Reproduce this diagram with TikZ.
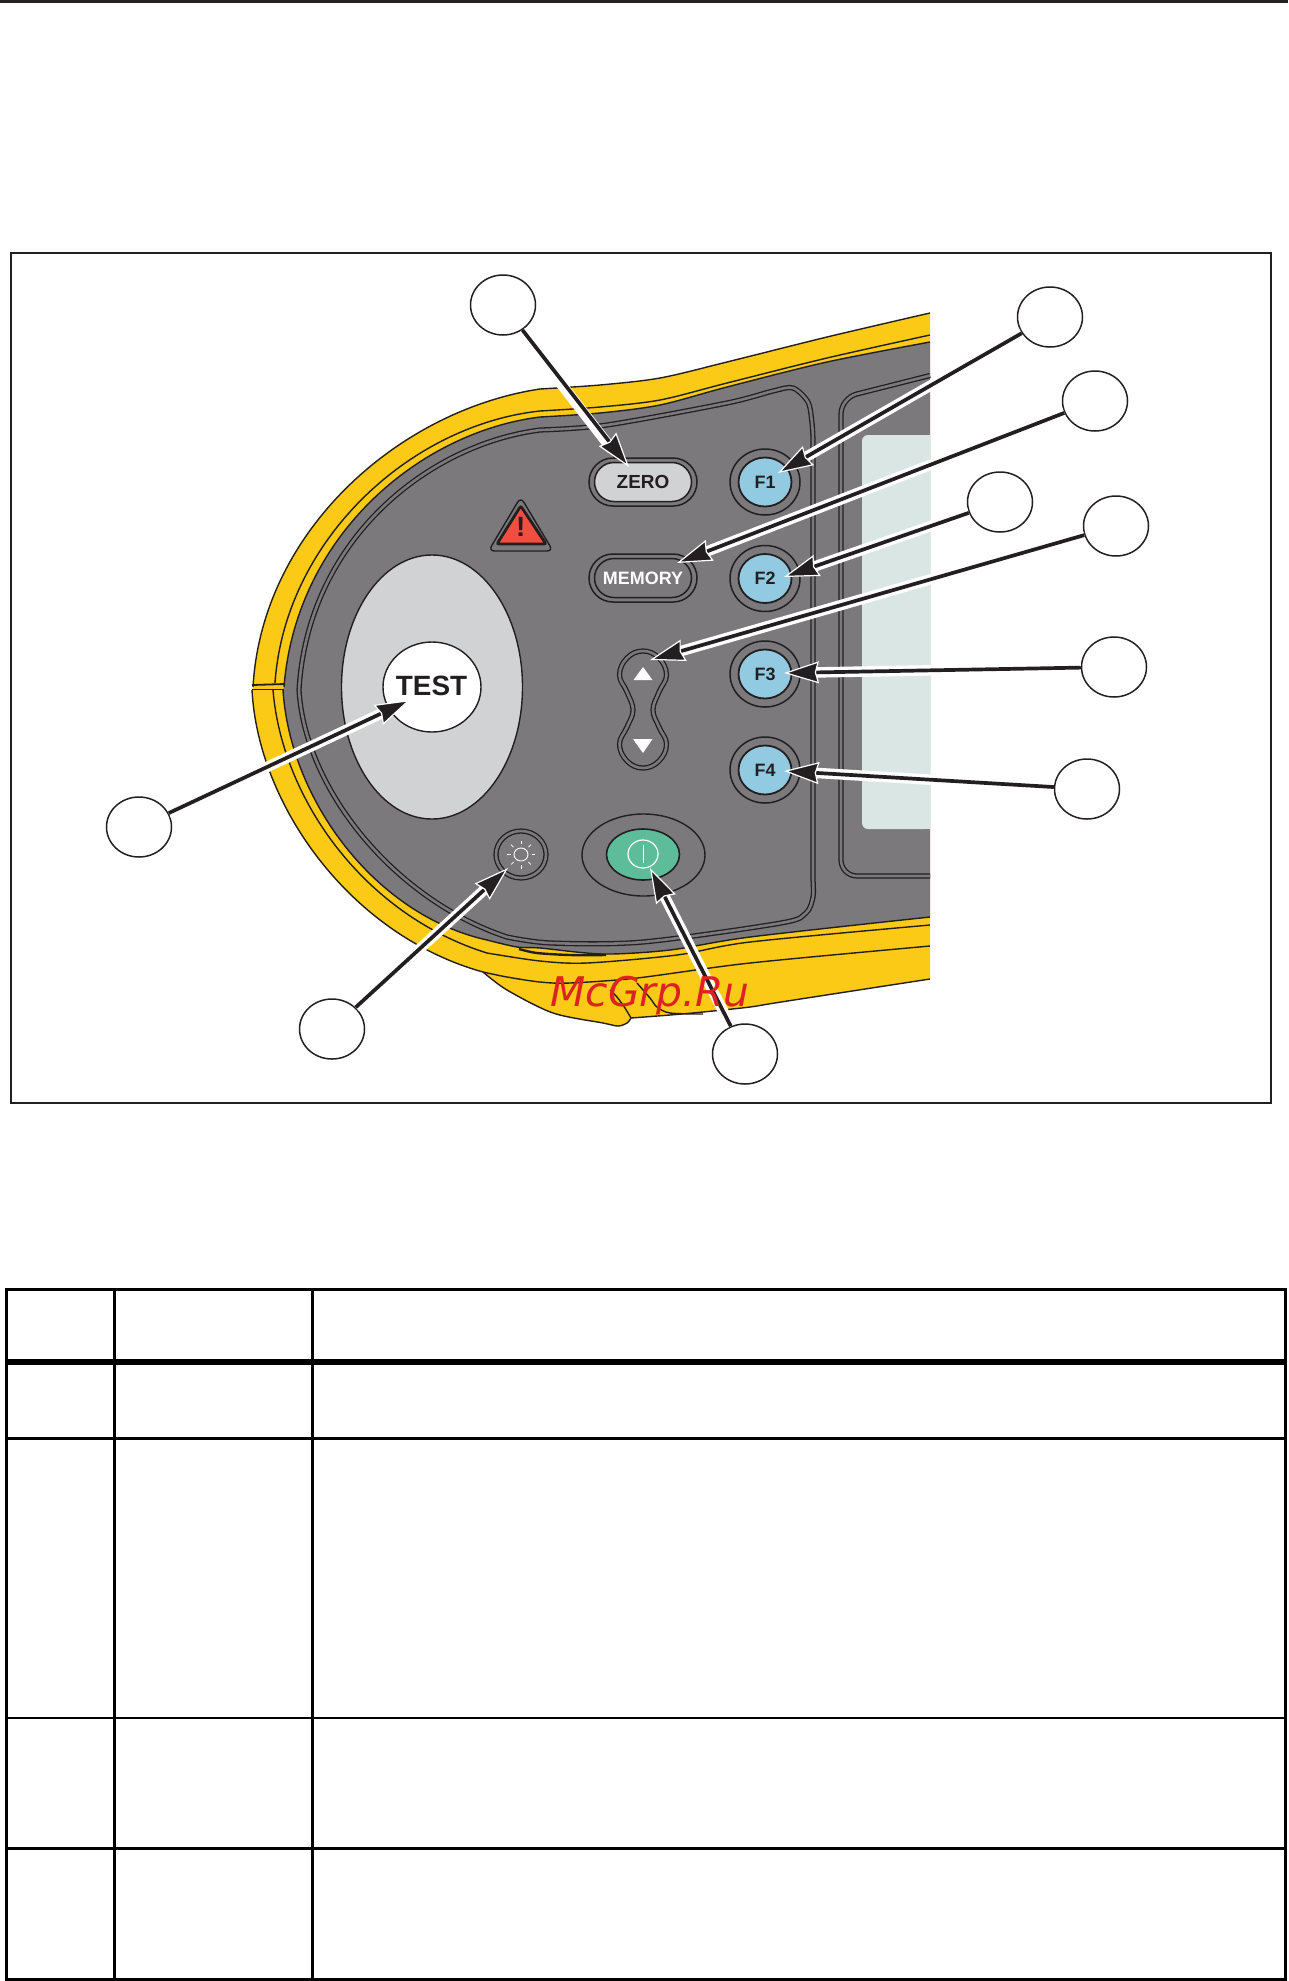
\documentclass[tikz,border=0pt]{standalone}
\usepackage{fontspec}
\setmainfont{Liberation Sans}
\newfontfamily\wmfont{DejaVu Sans}
\usetikzlibrary{arrows.meta,shapes.geometric,shapes.misc}
\definecolor{ink}{HTML}{231F20}
\definecolor{bodyyellow}{HTML}{FBCA16}
\definecolor{panelgray}{HTML}{7B797B}
\definecolor{lightgray}{HTML}{D1D2D3}
\definecolor{keyblue}{HTML}{92CAE2}
\definecolor{keygreen}{HTML}{5DBD9B}
\definecolor{lcd}{HTML}{DAE6E3}
\definecolor{warnred}{HTML}{F04E3E}
\definecolor{markred}{HTML}{DD2222}
\tikzset{
  x=1bp,y=-1bp,
  edge/.style={draw=ink,line width=1.4bp,line join=round},
  dbl/.style={draw=ink,line width=1.3bp,double=panelgray,double distance=2.6bp},
  callout/.style={ellipse,draw=ink,fill=white,line width=1.5bp,minimum width=65bp,minimum height=60bp,inner sep=0pt},
  halo/.style={draw=white,line width=10.5bp,shorten >=24bp},
  leader/.style={draw=ink,line width=3.7bp,-{Stealth[length=35bp,width=22bp,inset=3bp,fill=ink,color=white,line width=1.2bp]}},
  pillout/.style={rounded rectangle,draw=ink,line width=1.5bp,fill=panelgray,minimum width=108bp,minimum height=48bp,inner sep=0pt},
  pillin/.style={rounded rectangle,draw=ink,line width=1.5bp,minimum width=97bp,minimum height=39bp,inner sep=0pt,font=\fontsize{19}{19}\selectfont\bfseries},
  keyout/.style={ellipse,draw=ink,line width=1.5bp,minimum width=70bp,minimum height=66bp,inner sep=0pt},
  keyin/.style={ellipse,draw=ink,fill=keyblue,line width=1.8bp,text=ink,minimum width=53bp,minimum height=49bp,inner sep=0pt,font=\fontsize{18}{18}\selectfont\bfseries},
  tablerule/.style={draw=black,line width=2.6bp},
}
\begin{document}
\begin{tikzpicture}
\useasboundingbox (0,0) rectangle (1288,1981);
% page rule and frame
\draw[draw=ink,line width=2.6bp] (0,1.2) -- (1288,1.2);
\draw[draw=ink,line width=2.6bp] (11,253) rectangle (1271,1103);
% yellow housing
\path[fill=bodyyellow]
  plot[smooth] coordinates {(930,313) (827,337) (727,362) (660,378) (600,385) (540,389)}
  .. controls (400,410) and (262,530) .. (253,687) -- (252,690)
  .. controls (258,805) and (350,935) .. (483,972)
  -- plot[smooth] coordinates {(483,972) (507,990) (553,1013) (603,1023) (618,1026) (627,1023) (631,1018)}
  -- plot[smooth] coordinates {(631,1018) (670,1015) (703,1012) (750,1007) (781,1002) (930,979)} -- cycle;
\draw[edge] plot[smooth] coordinates {(930,313) (827,337) (727,362) (660,378) (600,385) (540,389)}
  .. controls (400,410) and (262,530) .. (253,687);
\draw[edge] (252,690) .. controls (258,805) and (350,935) .. (483,972);
\draw[edge] plot[smooth] coordinates {(483,972) (507,990) (553,1013) (603,1023) (618,1026) (627,1023) (631,1018)};
\draw[edge] plot[smooth] coordinates {(631,1018) (670,1015) (703,1012) (750,1007) (781,1002) (930,979)};
% gray face
\path[fill=panelgray]
  plot[smooth] coordinates {(930,342) (827,362) (727,387) (660,405) (600,413) (540,417)}
  .. controls (420,432) and (296,535) .. (284,687) -- (283,690)
  .. controls (290,800) and (375,915) .. (487,940)
  -- plot[smooth] coordinates {(487,940) (517,947) (540,948) (603,954) (670,950) (750,937) (930,917)} -- cycle;
\draw[edge] plot[smooth] coordinates {(930,342) (827,362) (727,387) (660,405) (600,413) (540,417)}
  .. controls (420,432) and (296,535) .. (284,687);
\draw[edge] (283,690) .. controls (290,800) and (375,915) .. (487,940)
  -- plot[smooth] coordinates {(487,940) (517,947) (540,948) (603,954) (670,950) (750,937) (930,917)};
% housing division lines
\draw[edge] plot[smooth] coordinates {(930,335) (827,358) (727,383) (660,400) (600,407) (540,411)}
  .. controls (410,425) and (285,540) .. (275,683);
\draw[edge] (273,690) .. controls (282,800) and (365,915) .. (487,953)
  -- plot[smooth] coordinates {(487,953) (540,961) (587,963) (677,955) (750,942) (930,925)};
\draw[edge] plot[smooth] coordinates {(483,972) (507,977) (540,982) (570,983) (637,978) (750,963) (930,946)};
\draw[edge] plot[smooth] coordinates {(610,990) (617,997) (625,1008) (631,1018)};
\draw[edge] plot[smooth] coordinates {(637,983) (650,998) (657,1007) (670,1013) (703,1014)};
\draw[draw=ink,line width=2.4bp] plot[smooth] coordinates {(519,949) (537,953) (570,955) (606,955)};
% side notch
\draw[draw=ink,line width=1.8bp] (252,685) -- (285,684);
\draw[draw=ink,line width=1.3bp] (252,689.5) -- (283.5,689.5);
% panel and display bezels
\draw[dbl] plot[smooth,tension=0.5] coordinates {(813,440) (812,423) (808,402) (793,388) (773,391) (727,403) (607,425) (540,430)}
  .. controls (430,444) and (308,538) .. (299,690)
  .. controls (305,790) and (395,900) .. (507,937)
  -- plot[smooth,tension=0.5] coordinates {(507,937) (551,943) (643,942) (781,923) (806,913) (813,897) (813,880)} -- cycle;
\draw[dbl,rounded corners=16bp] (930,375.5) -- (841,398) -- (841,876) -- (930,876);
\path[fill=lcd,rounded corners=6bp] (930,435) -- (862,435) -- (862,829) -- (930,829) -- cycle;
\path[fill=lcd] (900,435) rectangle (930,829);
% TEST key
\node[ellipse,draw=ink,fill=lightgray,line width=1.4bp,minimum width=181bp,minimum height=264bp,inner sep=0pt] (testbase) at (432,687) {};
\node[ellipse,draw=ink,fill=white,line width=1.4bp,minimum width=98bp,minimum height=90bp,inner sep=0pt] (testkey) at (432,687) {};
\node[text=ink,inner sep=0pt,font=\fontsize{28}{28}\selectfont\bfseries] (testlabel) at (431.5,686) {TEST};
% warning triangle
\draw[draw=ink,line width=1.4bp,rounded corners=6bp] (520.7,497) -- (553,551) -- (488.5,551) -- cycle;
\draw[draw=ink,fill=warnred,line width=2.8bp,rounded corners=2bp] (520.7,506) -- (546,544) -- (497,544) -- cycle;
\node[text=ink,inner sep=0pt,font=\fontsize{28}{28}\selectfont\bfseries] (warnmark) at (520.7,527) {!};
% pills
\node[pillout] (zeroout) at (643,482) {};
\node[pillin,fill=lightgray,text=ink] (zerokey) at (643,482) {ZERO};
\node[pillout] (memout) at (643,578) {};
\node[pillin,fill=panelgray,text=white,font=\fontsize{18}{18}\selectfont\bfseries] (memkey) at (643,578) {MEMORY};
% function keys
\node[keyout] (f1o) at (765,482) {};
\node[keyin] (f1) at (765,482) {F1};
\node[keyout] (f2o) at (765,578.5) {};
\node[keyin] (f2) at (765,578.5) {F2};
\node[keyout] (f3o) at (765,674) {};
\node[keyin] (f3) at (765,674) {F3};
\node[keyout] (f4o) at (765,770) {};
\node[keyin] (f4) at (765,770) {F4};
% rocker
\draw[dbl] plot[smooth cycle,tension=0.7] coordinates {(643,651) (659,658) (666.5,675) (659,692) (653,710) (659,727) (666.5,744) (659,761) (643,768) (627,761) (619.5,744) (627,727) (633,710) (627,692) (619.5,675) (627,658)};
\fill[white] (643,667) -- (652.5,680) -- (633.5,680) -- cycle;
\fill[white] (633,739) -- (652.5,739) -- (643,753) -- cycle;
% backlight key
\node[ellipse,dbl,minimum width=50bp,minimum height=47bp,inner sep=0pt] (lightkey) at (521,854.5) {};
\node[ellipse,draw=white,line width=0.9bp,minimum width=14bp,minimum height=13bp,inner sep=0pt] (sun) at (521,854.5) {};
\foreach \a in {0,45,...,315} \draw[draw=white,line width=0.7bp] ([shift={(\a:10.5)}]521,854.5) -- ([shift={(\a:14)}]521,854.5);
% power key
\node[ellipse,draw=ink,fill=panelgray,line width=1.4bp,minimum width=123bp,minimum height=82bp,inner sep=0pt] (powerbase) at (643.5,855) {};
\node[ellipse,draw=ink,fill=keygreen,line width=1.6bp,minimum width=73bp,minimum height=51bp,inner sep=0pt] (powerkey) at (643,854.5) {};
\node[ellipse,draw=white,line width=1.2bp,minimum width=30bp,minimum height=28bp,inner sep=0pt] (powersym) at (643,854) {};
\draw[draw=white,line width=1bp] (powersym.center) ++(0,-9) -- ++(0,18);
% callouts
\node[callout] (c1) at (503,305) {};
\node[callout] (c2) at (1050,317) {};
\node[callout] (c3) at (1095,401) {};
\node[callout] (c4) at (1000,502) {};
\node[callout] (c5) at (1116,526) {};
\node[callout] (c6) at (1114,667) {};
\node[callout] (c7) at (1087,789) {};
\node[callout] (c8) at (139,827) {};
\node[callout] (c9) at (332,1029) {};
\node[callout] (c10) at (745,1054) {};
% arrow targets
\coordinate (t1) at (629,467);
\coordinate (t2) at (778,473);
\coordinate (t3) at (677,563);
\coordinate (t4) at (784,577);
\coordinate (t5) at (650,660);
\coordinate (t6) at (784,673);
\coordinate (t7) at (784,771);
\coordinate (t8) at (410,700);
\coordinate (t9) at (508,868);
\coordinate (t10) at (650,868);
% halos and leaders
\draw[halo,transform canvas={xshift=-2bp,yshift=-1.6bp}] (c1) -- (t1);
\foreach \i in {2,...,10} \draw[halo] (c\i) -- (t\i);
\foreach \i in {1,...,10} \draw[leader] (c\i) -- (t\i);
% table
\draw[tablerule] (6.7,1288) -- (6.7,1981);
\draw[tablerule] (114.7,1288) -- (114.7,1981);
\draw[tablerule] (312.7,1288) -- (312.7,1981);
\draw[tablerule] (1285.3,1288) -- (1285.3,1981);
\draw[tablerule] (5.4,1289.3) -- (1286.6,1289.3);
\draw[draw=black,line width=6bp] (5.4,1361.7) -- (1286.6,1361.7);
\draw[tablerule] (5.4,1438.3) -- (1286.6,1438.3);
\draw[tablerule] (5.4,1718) -- (1286.6,1718);
\draw[tablerule] (5.4,1848.6) -- (1286.6,1848.6);
\draw[tablerule] (5.4,1979.4) -- (1286.6,1979.4);
% watermark
\node[text=markred,inner sep=0pt,font=\wmfont\itshape\fontsize{41}{41}\selectfont] (watermark) at (650,996) {McGrp.Ru};
\end{tikzpicture}
\end{document}
